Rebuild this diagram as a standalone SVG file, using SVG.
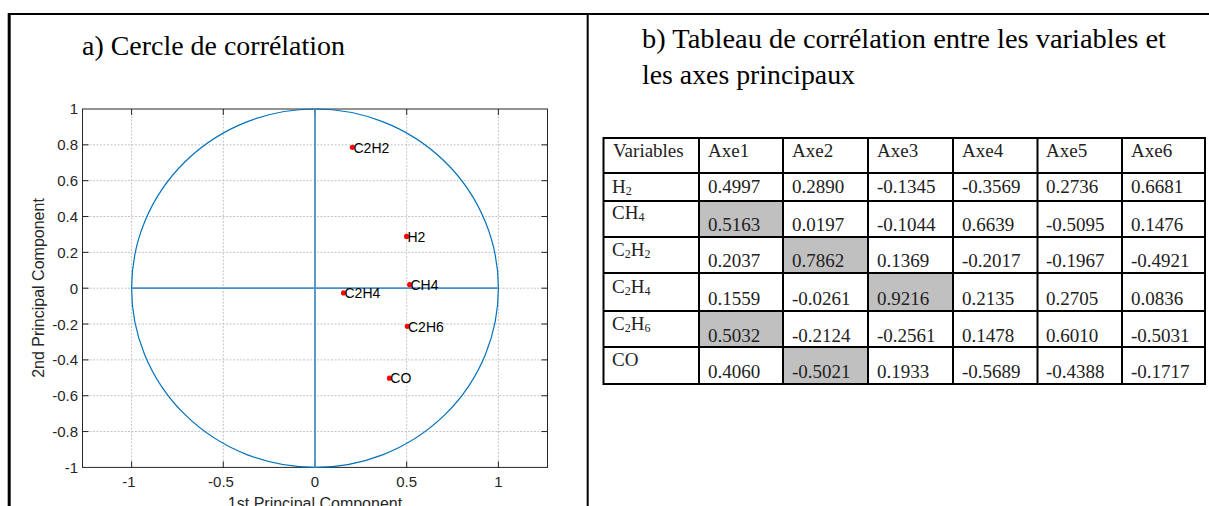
<svg xmlns="http://www.w3.org/2000/svg" width="1209" height="506" viewBox="0 0 1209 506">
<style>
.frame{stroke:#000;fill:none}
.grid{stroke:#c4c4c4;stroke-width:1;stroke-dasharray:2 1.5;fill:none}
.box{stroke:#262626;stroke-width:1;fill:none}
.tick{stroke:#262626;stroke-width:1}
.tl{font-family:"Liberation Sans",Arial,sans-serif;font-size:15px;fill:#262626}
.al{font-family:"Liberation Sans",Arial,sans-serif;font-size:16px;fill:#262626}
.pl{font-family:"Liberation Sans",Arial,sans-serif;font-size:14px;fill:#000}
.pt{fill:#ff0000}
.ttl{font-family:"Liberation Serif","Times New Roman",serif;font-size:27px;fill:#000}
.cell{font-family:"Liberation Serif","Times New Roman",serif;font-size:19px;fill:#222}
.sub{font-size:12px}
.tline{stroke:#000;stroke-width:2;fill:none}
.shade{fill:#c0c0c0}
</style>
<rect x="0" y="0" width="1209" height="506" fill="#fff"/>
<g id="frame">
<line class="frame" x1="8" y1="14" x2="1209" y2="14" stroke-width="2.2"/>
<line class="frame" x1="9.2" y1="13" x2="9.2" y2="506" stroke-width="3"/>
<line class="frame" x1="587.7" y1="13" x2="587.7" y2="506" stroke-width="2"/>
</g>
<g id="panel-a">
<text id="title-a" class="ttl" x="82" y="55" textLength="263" lengthAdjust="spacingAndGlyphs">a) Cercle de corrélation</text>
<g id="grid">
<line class="grid" x1="131.6" y1="109" x2="131.6" y2="467.4"/>
<line class="grid" x1="223.3" y1="109" x2="223.3" y2="467.4"/>
<line class="grid" x1="315" y1="109" x2="315" y2="467.4"/>
<line class="grid" x1="406.7" y1="109" x2="406.7" y2="467.4"/>
<line class="grid" x1="498.4" y1="109" x2="498.4" y2="467.4"/>
<line class="grid" x1="82.5" y1="144.84" x2="547.5" y2="144.84"/>
<line class="grid" x1="82.5" y1="180.68" x2="547.5" y2="180.68"/>
<line class="grid" x1="82.5" y1="216.52" x2="547.5" y2="216.52"/>
<line class="grid" x1="82.5" y1="252.36" x2="547.5" y2="252.36"/>
<line class="grid" x1="82.5" y1="288.2" x2="547.5" y2="288.2"/>
<line class="grid" x1="82.5" y1="324.04" x2="547.5" y2="324.04"/>
<line class="grid" x1="82.5" y1="359.88" x2="547.5" y2="359.88"/>
<line class="grid" x1="82.5" y1="395.72" x2="547.5" y2="395.72"/>
<line class="grid" x1="82.5" y1="431.56" x2="547.5" y2="431.56"/>
</g>
<g id="axes-box">
<rect class="box" x="82.5" y="109" width="465" height="358.4"/>
<g class="tick">
<line x1="131.6" y1="467.4" x2="131.6" y2="461.4"/><line x1="223.3" y1="467.4" x2="223.3" y2="461.4"/><line x1="315" y1="467.4" x2="315" y2="461.4"/><line x1="406.7" y1="467.4" x2="406.7" y2="461.4"/><line x1="498.4" y1="467.4" x2="498.4" y2="461.4"/>
<line x1="131.6" y1="109" x2="131.6" y2="115"/><line x1="223.3" y1="109" x2="223.3" y2="115"/><line x1="315" y1="109" x2="315" y2="115"/><line x1="406.7" y1="109" x2="406.7" y2="115"/><line x1="498.4" y1="109" x2="498.4" y2="115"/>
<line x1="82.5" y1="144.84" x2="88.5" y2="144.84"/><line x1="82.5" y1="180.68" x2="88.5" y2="180.68"/><line x1="82.5" y1="216.52" x2="88.5" y2="216.52"/><line x1="82.5" y1="252.36" x2="88.5" y2="252.36"/><line x1="82.5" y1="288.2" x2="88.5" y2="288.2"/><line x1="82.5" y1="324.04" x2="88.5" y2="324.04"/><line x1="82.5" y1="359.88" x2="88.5" y2="359.88"/><line x1="82.5" y1="395.72" x2="88.5" y2="395.72"/><line x1="82.5" y1="431.56" x2="88.5" y2="431.56"/>
<line x1="547.5" y1="144.84" x2="541.5" y2="144.84"/><line x1="547.5" y1="180.68" x2="541.5" y2="180.68"/><line x1="547.5" y1="216.52" x2="541.5" y2="216.52"/><line x1="547.5" y1="252.36" x2="541.5" y2="252.36"/><line x1="547.5" y1="288.2" x2="541.5" y2="288.2"/><line x1="547.5" y1="324.04" x2="541.5" y2="324.04"/><line x1="547.5" y1="359.88" x2="541.5" y2="359.88"/><line x1="547.5" y1="395.72" x2="541.5" y2="395.72"/><line x1="547.5" y1="431.56" x2="541.5" y2="431.56"/>
</g>
<g class="tl" text-anchor="end">
<text x="78" y="114">1</text><text x="78" y="150">0.8</text><text x="78" y="186">0.6</text><text x="78" y="222">0.4</text><text x="78" y="257.5">0.2</text><text x="78" y="293.5">0</text><text x="78" y="329.5">-0.2</text><text x="78" y="365">-0.4</text><text x="78" y="401">-0.6</text><text x="78" y="437">-0.8</text><text x="78" y="472.5">-1</text>
</g>
<g class="tl" text-anchor="middle">
<text x="129" y="487">-1</text><text x="221" y="487">-0.5</text><text x="315" y="487">0</text><text x="406.7" y="487">0.5</text><text x="498.4" y="487">1</text>
</g>
<text class="al" x="315" y="509" text-anchor="middle">1st Principal Component</text>
<text class="al" transform="translate(44,288) rotate(-90)" text-anchor="middle">2nd Principal Component</text>
</g>
<g id="circle">
<ellipse cx="315" cy="288.2" rx="183.4" ry="179.2" fill="none" stroke="#0072bd" stroke-width="1.2"/>
<line x1="131.6" y1="288.2" x2="498.4" y2="288.2" stroke="#4a90c8" stroke-width="1.8"/>
<line x1="315" y1="109" x2="315" y2="467.4" stroke="#4a90c8" stroke-width="1.8"/>
</g>
<g id="pt-C2H2"><circle class="pt" cx="352.4" cy="147.3" r="2.6"/><text class="pl" x="353.5" y="152.5">C2H2</text></g>
<g id="pt-H2"><circle class="pt" cx="406.6" cy="236.4" r="2.6"/><text class="pl" x="407.5" y="241.6">H2</text></g>
<g id="pt-CH4"><circle class="pt" cx="409.7" cy="284.7" r="2.6"/><text class="pl" x="410.5" y="289.9">CH4</text></g>
<g id="pt-C2H4"><circle class="pt" cx="343.6" cy="292.9" r="2.6"/><text class="pl" x="344.5" y="298.1">C2H4</text></g>
<g id="pt-C2H6"><circle class="pt" cx="407.3" cy="326.3" r="2.6"/><text class="pl" x="408" y="331.5">C2H6</text></g>
<g id="pt-CO"><circle class="pt" cx="389.5" cy="378.2" r="2.6"/><text class="pl" x="390.3" y="383.4">CO</text></g>
</g>
<g id="panel-b">
<g id="title-b" class="ttl">
<text x="642" y="48" textLength="524" lengthAdjust="spacingAndGlyphs">b) Tableau de corrélation entre les variables et</text>
<text x="642" y="84" textLength="213" lengthAdjust="spacingAndGlyphs">les axes principaux</text>
</g>
<g id="table">
<rect class="shade" x="699" y="201" width="84" height="36"/>
<rect class="shade" x="783" y="237" width="85" height="36"/>
<rect class="shade" x="868" y="273" width="85" height="38"/>
<rect class="shade" x="699" y="311" width="84" height="36"/>
<rect class="shade" x="783" y="347" width="85" height="37"/>
<rect class="tline" x="603.5" y="138" width="601.5" height="246"/>
<line class="tline" x1="603.5" y1="173" x2="1205" y2="173"/>
<line class="tline" x1="603.5" y1="201" x2="1205" y2="201"/>
<line class="tline" x1="603.5" y1="237" x2="1205" y2="237"/>
<line class="tline" x1="603.5" y1="273" x2="1205" y2="273"/>
<line class="tline" x1="603.5" y1="311" x2="1205" y2="311"/>
<line class="tline" x1="603.5" y1="347" x2="1205" y2="347"/>
<line class="tline" x1="699" y1="138" x2="699" y2="384"/>
<line class="tline" x1="783" y1="138" x2="783" y2="384"/>
<line class="tline" x1="868" y1="138" x2="868" y2="384"/>
<line class="tline" x1="953" y1="138" x2="953" y2="384"/>
<line class="tline" x1="1037.5" y1="138" x2="1037.5" y2="384"/>
<line class="tline" x1="1122" y1="138" x2="1122" y2="384"/>
<g id="row-header" class="cell">
<text x="613" y="157">Variables</text><text x="708" y="157">Axe1</text><text x="792" y="157">Axe2</text><text x="877" y="157">Axe3</text><text x="962" y="157">Axe4</text><text x="1046" y="157">Axe5</text><text x="1131" y="157">Axe6</text>
</g>
<g id="row-H2" class="cell">
<text x="612" y="193">H<tspan class="sub" dy="2">2</tspan></text>
<text x="708" y="193">0.4997</text><text x="792" y="193">0.2890</text><text x="877" y="193">-0.1345</text><text x="962" y="193">-0.3569</text><text x="1046" y="193">0.2736</text><text x="1131" y="193">0.6681</text>
</g>
<g id="row-CH4" class="cell">
<text x="612" y="219">CH<tspan class="sub" dy="2">4</tspan></text>
<text x="708" y="231">0.5163</text><text x="792" y="231">0.0197</text><text x="877" y="231">-0.1044</text><text x="962" y="231">0.6639</text><text x="1046" y="231">-0.5095</text><text x="1131" y="231">0.1476</text>
</g>
<g id="row-C2H2" class="cell">
<text x="612" y="256">C<tspan class="sub" dy="2">2</tspan><tspan dy="-2">H</tspan><tspan class="sub" dy="2">2</tspan></text>
<text x="708" y="267">0.2037</text><text x="792" y="267">0.7862</text><text x="877" y="267">0.1369</text><text x="962" y="267">-0.2017</text><text x="1046" y="267">-0.1967</text><text x="1131" y="267">-0.4921</text>
</g>
<g id="row-C2H4" class="cell">
<text x="612" y="293">C<tspan class="sub" dy="2">2</tspan><tspan dy="-2">H</tspan><tspan class="sub" dy="2">4</tspan></text>
<text x="708" y="305">0.1559</text><text x="792" y="305">-0.0261</text><text x="877" y="305">0.9216</text><text x="962" y="305">0.2135</text><text x="1046" y="305">0.2705</text><text x="1131" y="305">0.0836</text>
</g>
<g id="row-C2H6" class="cell">
<text x="612" y="330">C<tspan class="sub" dy="2">2</tspan><tspan dy="-2">H</tspan><tspan class="sub" dy="2">6</tspan></text>
<text x="708" y="342">0.5032</text><text x="792" y="342">-0.2124</text><text x="877" y="342">-0.2561</text><text x="962" y="342">0.1478</text><text x="1046" y="342">0.6010</text><text x="1131" y="342">-0.5031</text>
</g>
<g id="row-CO" class="cell">
<text x="612" y="366">CO</text>
<text x="708" y="378">0.4060</text><text x="792" y="378">-0.5021</text><text x="877" y="378">0.1933</text><text x="962" y="378">-0.5689</text><text x="1046" y="378">-0.4388</text><text x="1131" y="378">-0.1717</text>
</g>
</g>
</g>
</svg>
